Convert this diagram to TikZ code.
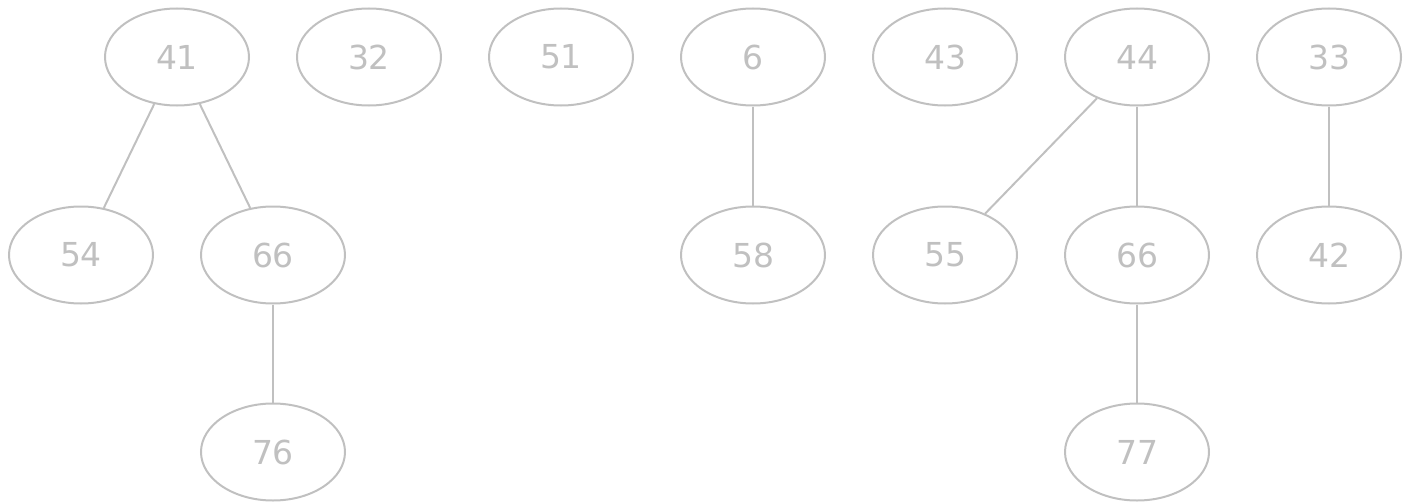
\documentclass[tikz,border=0pt]{standalone}
\usepackage{fontspec}
\setmainfont{DejaVu Sans}
\usetikzlibrary{shapes.geometric}
\definecolor{lg}{HTML}{C0C0C0}
\tikzset{
  nd/.style={ellipse, draw=lg, line width=2pt, minimum width=144pt, minimum height=97pt, inner sep=0pt, text=lg, font=\fontsize{33}{37}\selectfont},
  ed/.style={draw=lg, line width=2pt}
}
\begin{document}
\begin{tikzpicture}[x=1pt,y=-1pt]
\useasboundingbox (0,0) rectangle (1403,503);
\node[nd] (a41) at (177,57) {41};
\node[nd] (a32) at (369,57) {32};
\node[nd] (a51) at (561,57) {51};
\node[nd] (a6) at (753,57) {6};
\node[nd] (a43) at (945,57) {43};
\node[nd] (a44) at (1137,57) {44};
\node[nd] (a33) at (1329,57) {33};
\node[nd] (b54) at (81,255) {54};
\node[nd] (b66) at (273,255) {66};
\node[nd] (b58) at (753,255) {58};
\node[nd] (b55) at (945,255) {55};
\node[nd] (b66b) at (1137,255) {66};
\node[nd] (b42) at (1329,255) {42};
\node[nd] (c76) at (273,452) {76};
\node[nd] (c77) at (1137,452) {77};
\draw[ed] (a41) -- (b54);
\draw[ed] (a41) -- (b66);
\draw[ed] (b66) -- (c76);
\draw[ed] (a6) -- (b58);
\draw[ed] (a44) -- (b55);
\draw[ed] (a44) -- (b66b);
\draw[ed] (b66b) -- (c77);
\draw[ed] (a33) -- (b42);
\end{tikzpicture}
\end{document}
